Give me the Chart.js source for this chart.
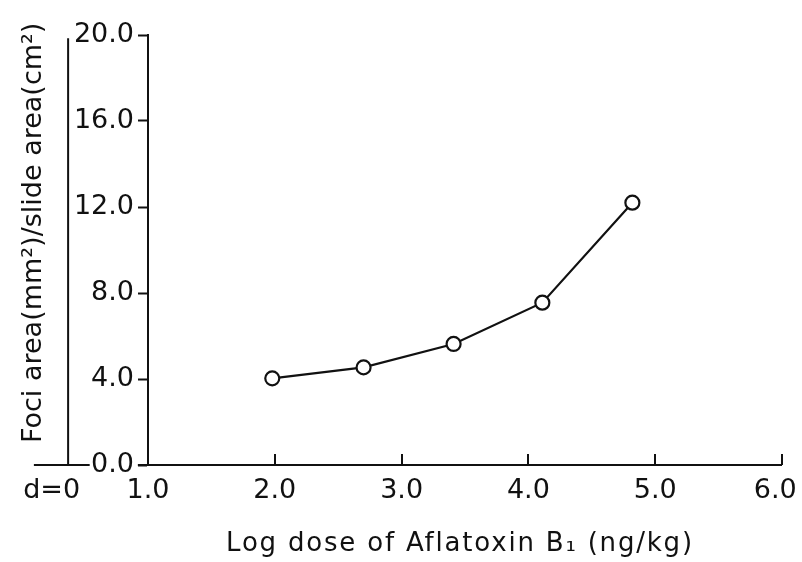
<!DOCTYPE html>
<html><head><meta charset="utf-8">
<script src="https://cdn.jsdelivr.net/npm/chart.js@4"></script>
<style>html,body{margin:0;padding:0;background:#fff}#wrap{width:802px;height:562px}</style>
</head><body><div id="wrap"><canvas id="c" width="802" height="562"></canvas></div>
<script>
// ---- data ----
const doseLog = [1.98, 2.70, 3.41, 4.11, 4.82];          // log dose of Aflatoxin B1
const fociArea = [4.03, 4.54, 5.63, 7.55, 12.2];         // foci area / slide area
const controlDose = [0.37];                               // d = 0 position on the broken axis
const controlArea = [0.2];
const xTickValues = [0.24, 1, 2, 3, 4, 5, 6];
const xTickLabels = ['d=0', '1.0', '2.0', '3.0', '4.0', '5.0', '6.0\u2002'];
const yTickValues = [0, 4, 8, 12, 16, 20];
const xTitle = 'Log dose of Aflatoxin B\u2081 (ng/kg) ';
const yTitle = '    Foci area(mm\u00B2)/slide area(cm\u00B2)';

const INK = '#111';
const FONT = "'DejaVu Sans', sans-serif";

const axisDecor = {
  id: 'axisDecor',
  beforeDatasetsDraw(chart) {
    const {ctx} = chart;
    const xs = chart.scales.x, ys = chart.scales.y;
    const y0 = ys.getPixelForValue(0);
    ctx.save();
    ctx.strokeStyle = INK;
    ctx.lineWidth = 2;
    ctx.beginPath();
    // broken x axis: short left piece (d=0 region) and main axis
    ctx.moveTo(xs.getPixelForValue(0.1), y0);
    ctx.lineTo(xs.getPixelForValue(0.54), y0);
    ctx.moveTo(xs.getPixelForValue(0.92), y0);
    ctx.lineTo(xs.right, y0);
    // upward tick marks
    [2, 3, 4, 5, 6].forEach(v => {
      const px = Math.round(xs.getPixelForValue(v));
      ctx.moveTo(px, y0);
      ctx.lineTo(px, y0 - 11);
    });
    // vertical line for the d=0 region
    const dx = xs.getPixelForValue(controlDose[0]);
    ctx.moveTo(dx, y0);
    ctx.lineTo(dx, ys.getPixelForValue(19.85));
    ctx.stroke();
    ctx.restore();
  }
};

function spacedTitle(s, spacing) {
  if (s._spacedTitle) return;
  const orig = s.drawTitle.bind(s);
  s.drawTitle = function () {
    this.ctx.save();
    this.ctx.letterSpacing = spacing;
    orig();
    this.ctx.restore();
  };
  s._spacedTitle = true;
}

new Chart(document.getElementById('c'), {
  type: 'scatter',
  data: {
    datasets: [
      {
        data: doseLog.map((x, i) => ({x, y: fociArea[i]})),
        showLine: true,
        borderColor: INK,
        borderWidth: 2.2,
        pointRadius: 7,
        pointBorderWidth: 2.2,
        pointBackgroundColor: '#fff',
        pointBorderColor: INK,
        tension: 0
      },
      {
        data: controlDose.map((x, i) => ({x, y: controlArea[i]})),
        showLine: false,
        pointRadius: 4.5,
        pointBorderWidth: 2,
        pointBackgroundColor: '#fff',
        pointBorderColor: INK,
        clip: false
      }
    ]
  },
  options: {
    responsive: false,
    animation: false,
    devicePixelRatio: 1,
    layout: {padding: {top: 35, right: 20, bottom: 0, left: 0}},
    plugins: {legend: {display: false}, tooltip: {enabled: false}},
    scales: {
      x: {
        type: 'linear',
        min: 1, max: 6,
        border: {display: false},
        grid: {display: false, drawTicks: false},
        afterBuildTicks: s => { s.ticks = xTickValues.map(v => ({value: v})); },
        afterFit: s => { s.height = 97; s.paddingLeft = 0; s.paddingRight = 0; spacedTitle(s, '1.8px'); },
        ticks: {
          autoSkip: false,
          maxRotation: 0,
          padding: 10,
          color: INK,
          font: {family: FONT, size: 27},
          callback: (v, i) => xTickLabels[i]
        },
        title: {
          display: true,
          text: xTitle,
          color: INK,
          font: {family: FONT, size: 26},
          padding: {top: 0, bottom: 2}
        }
      },
      y: {
        type: 'linear',
        position: 'left',
        min: 0, max: 20,
        border: {display: true, color: INK, width: 2},
        grid: {drawOnChartArea: false, drawTicks: true, tickLength: 10, tickColor: INK, tickWidth: 2},
        afterBuildTicks: s => { s.ticks = yTickValues.map(v => ({value: v})); },
        afterFit: s => { s.width = 148; },
        ticks: {
          padding: 4,
          color: INK,
          font: {family: FONT, size: 27},
          callback: v => Number(v).toFixed(1)
        },
        title: {
          display: true,
          text: yTitle,
          color: INK,
          font: {family: FONT, size: 27},
          padding: {top: 17.3, bottom: 0}
        }
      }
    }
  },
  plugins: [axisDecor]
});
</script>
</body></html>
